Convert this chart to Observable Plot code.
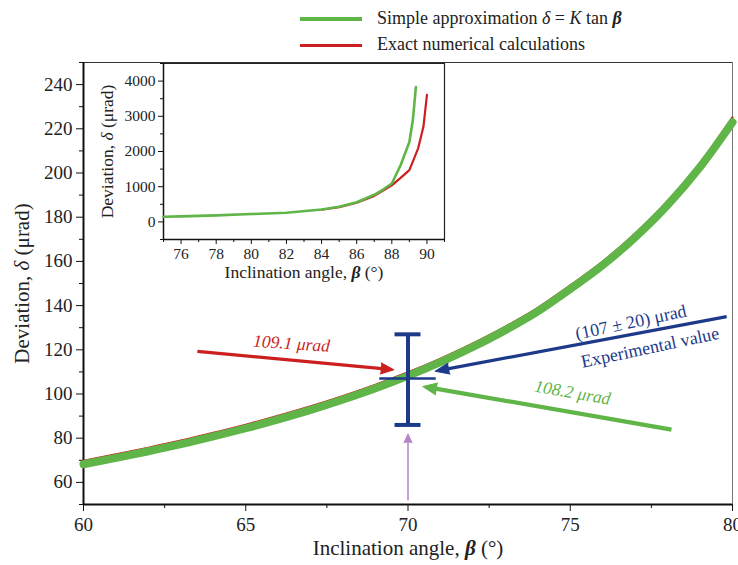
<!DOCTYPE html>
<html><head><meta charset="utf-8">
<script src="https://cdn.jsdelivr.net/npm/d3@7"></script>
<script src="https://cdn.jsdelivr.net/npm/@observablehq/plot@0.6"></script>
<style>
body{margin:0;background:#fff;font-family:"Liberation Serif",serif;}
#wrap{position:relative;width:738px;height:565px;overflow:hidden;}
#legend{position:relative;height:58px;}
.lg-line{position:absolute;left:300px;width:62px;}
.lg-text{position:absolute;left:377px;font-size:18px;color:#222;line-height:18px;white-space:nowrap;}
#inset{position:absolute;left:86px;top:58px;}
svg, svg text, svg g {font-family:"Liberation Serif", serif !important;}
</style></head><body>
<div id="wrap">
  <div id="legend"></div>
  <div id="main"></div>
  <div id="inset"></div>
</div>
<script>
// ---------- data ----------
const angleMain  = [60,61,62,63,64,65,66,67,68,69,70,71,72,73,74,75,76,77,78,79,80];
const approxMain = [68.2,71.1,74.1,77.3,80.8,84.5,88.5,92.8,97.5,102.6,108.2,114.4,121.3,128.9,137.4,147.5,158.3,170.9,185.5,202.7,223.0];
const exactMain  = [69.8,72.7,75.7,78.9,82.4,86.1,90.1,94.4,99.1,104.2,109.8,116.0,122.9,130.5,139.0,149.1,159.9,172.6,187.2,204.5,225.2];

const insetAngleApprox = [75,76,78,80,82,84,85,86,87,87.5,88,88.5,89,89.2,89.37];
const insetApprox      = [147,158,185,223,262,351,430,560,771,920,1090,1610,2270,2900,3830];
const insetAngleExact  = [84,85,86,87,88,88.5,89,89.5,89.8,90];
const insetExact       = [345,420,545,740,1040,1250,1470,2090,2700,3610];

const mainXTicks = [60,65,70,75,80];
const mainXMinor = [62.5,67.5,72.5,77.5];
const mainYTicks = [60,80,100,120,140,160,180,200,220,240];
const mainYMinor = [50,70,90,110,130,150,170,190,210,230,250];
const insetXTicks = [76,78,80,82,84,86,88,90];
const insetXMinor = [75,77,79,81,83,85,87,89,91];
const insetYTicks = [0,1000,2000,3000,4000];
const insetYMinor = [-500,500,1500,2500,3500,4500];

const GREEN = "#5fb548", RED = "#cc1f1f", BLUE = "#1d3a8a", PURPLE = "#b585c8";

const legendLabels = ["Simple approximation δ = K tan β", "Exact numerical calculations"];
const legendColors = [GREEN, RED];

// experimental value with error bar
const expBeta = 70, expValue = 107, expTop = 127, expBottom = 86;
const capHalf = 0.4, barHalf = 0.87;

// annotation arrows (start -> tip)
const arrows = [
  {x1:63.51, y1:119.3, x2:69.56, y2:111.0, color:RED,    w:3.2, hl:13, hw:5.5},
  {x1:79.82, y1:135.0, x2:70.84, y2:110.3, color:BLUE,   w:3.2, hl:14, hw:5.5},
  {x1:78.12, y1:83.9,  x2:70.46, y2:103.4, color:GREEN,  w:4.2, hl:14, hw:6},
  {x1:70.0,  y1:51.8,  x2:70.0,  y2:82.0,  color:PURPLE, w:1.5, hl:9,  hw:4}
];
const labelsItalic = [
  {x:66.41, y:122.8, text:"109.1 μrad", color:RED,   rotate:4},
  {x:75.07, y:100.6, text:"108.2 μrad", color:GREEN, rotate:10}
];
const labelsPlain = [
  {x:76.87, y:132.4, text:"(107 ± 20) μrad",    color:BLUE, rotate:-12},
  {x:77.46, y:121.0, text:"Experimental value", color:BLUE, rotate:-12}
];

const FONT = "Liberation Serif, serif";

// ---------- legend ----------
const legend = document.getElementById("legend");
legendLabels.forEach((lab, i) => {
  const yc = [19, 45][i];
  const line = document.createElement("div");
  line.className = "lg-line";
  const lw = i === 0 ? 4 : 3;
  line.style.top = (yc - lw / 2) + "px";
  line.style.height = lw + "px";
  line.style.background = legendColors[i];
  legend.appendChild(line);
  const t = document.createElement("div");
  t.className = "lg-text";
  t.style.top = (yc - 10) + "px";
  t.innerHTML = lab.replace("δ", "<i>δ</i>").replace(" K ", " <i>K</i> ").replace("β", "<b><i>β</i></b>");
  legend.appendChild(t);
});

// ---------- main chart ----------
const W = 738, H = 507, mL = 83, mR = 6, mT = 4, mB = 61;
const kx = (W - mL - mR) / 20, ky = (H - mT - mB) / 200;
const heading = d => Math.atan2((d.x2 - d.x1) * kx, (d.y2 - d.y1) * ky) * 180 / Math.PI;

const mainRows = angleMain.map((a, i) => ({a, approx: approxMain[i], exact: exactMain[i]}));
const blank = () => "";
const plain = d => String(d);

const main = Plot.plot({
  width: W, height: H, marginLeft: mL, marginRight: mR, marginTop: mT, marginBottom: mB,
  x: {domain: [60, 80]},
  y: {domain: [50, 250]},
  style: {fontFamily: FONT, background: "transparent", color: "#222"},
  marks: [
    Plot.axisY(mainYTicks, {tickSize: 7, tickPadding: 4, fontSize: 19, fontFamily: FONT, tickFormat: plain, label: null, stroke: "#111"}),
    Plot.axisY(mainYMinor, {tickSize: 4, tickFormat: blank, label: null, stroke: "#111"}),
    Plot.axisX(mainXTicks, {tickSize: 7, tickPadding: 6, fontSize: 19, fontFamily: FONT, tickFormat: plain, label: null, stroke: "#111"}),
    Plot.axisX(mainXMinor, {tickSize: 4, tickFormat: blank, label: null, stroke: "#111"}),
    Plot.ruleY([250], {stroke: "#333", strokeWidth: 1.2}),
    Plot.ruleX([80], {stroke: "#777", strokeWidth: 1}),
    Plot.ruleX([60], {stroke: "#111", strokeWidth: 2}),
    Plot.ruleY([50], {stroke: "#111", strokeWidth: 2}),
    Plot.text(["Deviation, δ (μrad)"], {frameAnchor: "left", textAnchor: "middle", dx: -61, rotate: -90, fontSize: 21, fontFamily: FONT, fill: "#222"}),
    Plot.text(["Inclination angle, β (°)"], {frameAnchor: "bottom", textAnchor: "middle", dy: 50, fontSize: 21, fontFamily: FONT, fill: "#222"}),
    Plot.line(mainRows, {x: "a", y: "exact", stroke: RED, strokeWidth: 2.2, curve: "monotone-x"}),
    Plot.line(mainRows, {x: "a", y: "approx", stroke: GREEN, strokeWidth: 8, curve: "monotone-x"}),
    // arrows: shafts then filled heads
    ...arrows.map(d => Plot.arrow([d], {x1: "x1", y1: "y1", x2: "x2", y2: "y2", stroke: d.color,
      strokeWidth: d.w, headLength: 0, insetEnd: d.hl * 0.7, strokeLinecap: "butt"})),
    ...arrows.map(d => Plot.vector([d], {x: "x2", y: "y2", rotate: heading(d), length: d.hl, r: d.hw,
      shape: "spike", anchor: "end", fill: d.color, stroke: d.color, strokeWidth: 1})),
    // error bar
    Plot.ruleX([{x: expBeta, y1: expBottom, y2: expTop}], {x: "x", y1: "y1", y2: "y2", stroke: BLUE, strokeWidth: 4}),
    Plot.ruleY([expTop, expBottom], {x1: expBeta - capHalf, x2: expBeta + capHalf, stroke: BLUE, strokeWidth: 4}),
    Plot.ruleY([expValue], {x1: expBeta - barHalf, x2: expBeta + barHalf, stroke: BLUE, strokeWidth: 2.5}),
    Plot.text(labelsItalic, {x: "x", y: "y", text: "text", fill: "color", rotate: "rotate", fontSize: 17.5, fontFamily: FONT, fontStyle: "italic"}),
    Plot.text(labelsPlain, {x: "x", y: "y", text: "text", fill: "color", rotate: "rotate", fontSize: 18, fontFamily: FONT})
  ]
});
document.getElementById("main").appendChild(main);

// ---------- inset ----------
const IW = 362, IH = 227;
const approxRows = insetAngleApprox.map((a, i) => ({a, v: insetApprox[i]}));
const exactRows = insetAngleExact.map((a, i) => ({a, v: insetExact[i]}));
const inset = Plot.plot({
  width: IW, height: IH, marginLeft: 77, marginRight: 4, marginTop: 5, marginBottom: 46,
  x: {domain: [75, 91]},
  y: {domain: [-500, 4500]},
  style: {fontFamily: FONT, background: "transparent", color: "#222"},
  marks: [
    Plot.axisY(insetYTicks, {tickSize: 5, tickPadding: 3, fontSize: 15.5, fontFamily: FONT, tickFormat: plain, label: null, stroke: "#111"}),
    Plot.axisY(insetYMinor, {tickSize: 3, tickFormat: blank, label: null, stroke: "#111"}),
    Plot.axisX(insetXTicks, {tickSize: 5, tickPadding: 3, fontSize: 15.5, fontFamily: FONT, tickFormat: plain, label: null, stroke: "#111"}),
    Plot.axisX(insetXMinor, {tickSize: 3, tickFormat: blank, label: null, stroke: "#111"}),
    Plot.ruleY([4500], {stroke: "#222", strokeWidth: 1.2}),
    Plot.ruleX([91], {stroke: "#222", strokeWidth: 1.2}),
    Plot.ruleX([75], {stroke: "#111", strokeWidth: 1.5}),
    Plot.ruleY([-500], {stroke: "#111", strokeWidth: 1.5}),
    Plot.text(["Deviation, δ (μrad)"], {frameAnchor: "left", textAnchor: "middle", dx: -56, rotate: -90, fontSize: 17.5, fontFamily: FONT, fill: "#222"}),
    Plot.text(["Inclination angle, β (°)"], {frameAnchor: "bottom", textAnchor: "middle", dy: 38, fontSize: 17.5, fontFamily: FONT, fill: "#222"}),
    Plot.line(exactRows, {x: "a", y: "v", stroke: RED, strokeWidth: 2.2}),
    Plot.line(approxRows, {x: "a", y: "v", stroke: GREEN, strokeWidth: 2.6})
  ]
});
document.getElementById("inset").appendChild(inset);

// italic Greek letters in the axis titles
[main, inset].forEach(svg => {
  d3.select(svg).selectAll("text").filter(function() {
    return this.textContent.startsWith("Deviation") || this.textContent.startsWith("Inclination");
  }).each(function() {
    const t = this.textContent;
    const sel = d3.select(this);
    sel.text(null);
    t.split(/(δ|β)/).forEach(part => {
      const ts = sel.append("tspan").text(part);
      if (part === "δ") ts.attr("font-style", "italic");
      if (part === "β") ts.attr("font-style", "italic").attr("font-weight", "bold");
    });
  });
});
</script>
</body></html>
